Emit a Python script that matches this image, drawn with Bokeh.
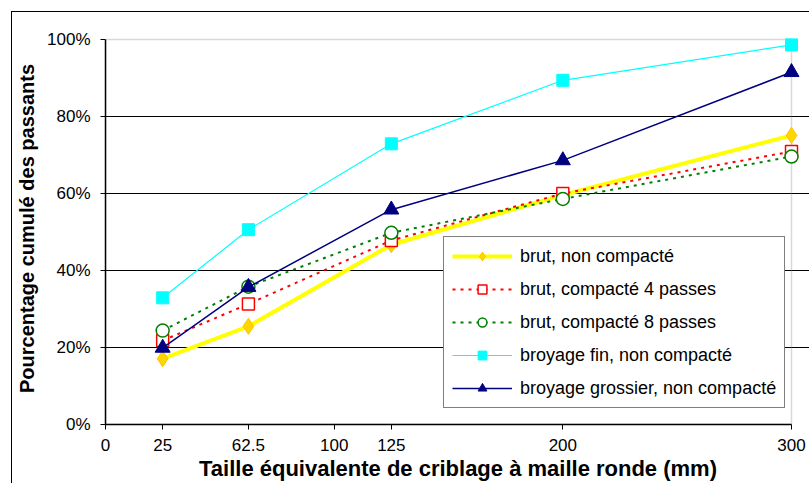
from bokeh.plotting import figure
from bokeh.models import (FixedTicker, PrintfTickFormatter, Range1d, BoxAnnotation, Legend, LegendItem)
from bokeh.embed import file_html
from bokeh.resources import INLINE

# ---- data ----
sizes = [25, 62.5, 125, 200, 300]
brut_nc = [17.1, 25.5, 46.7, 59.6, 75.1]
brut_c4 = [21.8, 31.3, 47.8, 60.0, 70.9]
brut_c8 = [24.4, 35.8, 49.8, 58.6, 69.6]
fin_nc = [32.9, 50.6, 72.9, 89.4, 98.6]
gros_nc = [19.9, 35.7, 55.8, 68.6, 91.5]
x_ticks = [0, 25, 62.5, 100, 125, 200, 300]
x_tick_labels = ["0", "25", "62.5", "100", "125", "200", "300"]
y_ticks = [0, 20, 40, 60, 80, 100]
X_MAX, Y_MAX = 300, 100

FONT = "Liberation Sans"
OFF = 12  # outer chart border offset (css margin + border)
W, H = 810 - OFF, 484 - OFF

# frame: x 0..300 spans 686 px, y 0..100 spans 385 px; let the frame run a bit past
px_x = 686 / X_MAX
px_y = 385 / Y_MAX
left_b = 105 - OFF
bottom_b = H - (424 - OFF)
x_end = (W - left_b) / px_x
top_b = 20
y_end = (H - bottom_b - top_b) / px_y

p = figure(width=W, height=H, output_backend="svg", toolbar_location=None,
           x_range=Range1d(0, x_end), y_range=Range1d(0, y_end),
           min_border_left=left_b, min_border_right=0, min_border_top=top_b,
           min_border_bottom=bottom_b)
p.styles = {"margin-left": "11px", "margin-top": "11px",
            "border-left": "1px solid black", "border-top": "1px solid black"}
p.background_fill_color = "white"
p.border_fill_color = "white"
p.outline_line_color = None

# plot-area border (gray)
p.add_layout(BoxAnnotation(left=0, right=X_MAX, bottom=0, top=Y_MAX, fill_alpha=0,
                           line_color="#808080", line_width=1.5, level="underlay"))

# grids
p.xgrid.visible = False
p.ygrid.ticker = FixedTicker(ticks=[20, 40, 60, 80])
p.ygrid.grid_line_color = "black"
p.ygrid.grid_line_width = 1

# axes
for ax in (p.xaxis[0], p.yaxis[0]):
    ax.axis_line_color = "black"
    ax.axis_line_width = 1.5
    ax.major_tick_line_color = "black"
    ax.major_tick_in = 0
    ax.major_tick_out = 5
    ax.minor_tick_line_color = None
    ax.major_label_text_font = FONT
    ax.major_label_text_font_size = "17px"
    ax.major_label_text_color = "black"
    ax.axis_label_text_font = FONT
    ax.axis_label_text_font_size = "20px"
    ax.axis_label_text_font_style = "bold"
    ax.axis_label_text_color = "black"

p.xaxis.ticker = FixedTicker(ticks=x_ticks)
p.xaxis.bounds = (0, X_MAX)
p.xaxis.major_label_overrides = {t: l for t, l in zip(x_ticks, x_tick_labels)}
p.xaxis.major_label_standoff = 9
p.xaxis.axis_label = "Taille équivalente de criblage à maille ronde (mm)"
p.xaxis.axis_label_text_font_size = "22px"
p.xaxis.axis_label_standoff = 2

p.yaxis.ticker = FixedTicker(ticks=y_ticks)
p.yaxis.bounds = (0, Y_MAX)
p.yaxis.formatter = PrintfTickFormatter(format="%d%%")
p.yaxis.major_label_standoff = 10
p.yaxis.axis_label = "Pourcentage cumulé des passants"
p.yaxis.axis_label_standoff = 6

# series
items = []
r1 = p.line(sizes, brut_nc, line_color="#FFFF00", line_width=4)
m1 = p.scatter(sizes, brut_nc, marker="diamond", size=16, fill_color="#FFD700", line_color="#FFC000", line_width=1)
items.append(LegendItem(label="brut, non compacté", renderers=[r1, m1]))

r2 = p.line(sizes, brut_c4, line_color="#FF0000", line_width=2, line_dash="3 5")
m2 = p.scatter(sizes, brut_c4, marker="square", size=12, fill_color="white", line_color="#FF0000", line_width=1.5)
items.append(LegendItem(label="brut, compacté 4 passes", renderers=[r2, m2]))

r3 = p.line(sizes, brut_c8, line_color="#008000", line_width=2, line_dash="3 5")
m3 = p.scatter(sizes, brut_c8, marker="circle", size=13, fill_color="white", line_color="#008000", line_width=1.5)
items.append(LegendItem(label="brut, compacté 8 passes", renderers=[r3, m3]))

r4 = p.line(sizes, fin_nc, line_color="#00FFFF", line_width=1.2)
m4 = p.scatter(sizes, fin_nc, marker="square", size=12, fill_color="#00FFFF", line_color="#00FFFF")
items.append(LegendItem(label="broyage fin, non compacté", renderers=[r4, m4]))

r5 = p.line(sizes, gros_nc, line_color="#000080", line_width=1.5)
m5 = p.scatter(sizes, gros_nc, marker="triangle", size=15, fill_color="#000080", line_color="#000080")
items.append(LegendItem(label="broyage grossier, non compacté", renderers=[r5, m5]))

legend = Legend(items=items, location=(338, 16))
legend.border_line_color = "black"
legend.border_line_width = 1
legend.background_fill_color = "white"
legend.background_fill_alpha = 1
legend.label_text_font = FONT
legend.label_text_font_size = "18px"
legend.label_text_color = "black"
legend.padding = 8
legend.margin = 0
legend.spacing = 11
legend.glyph_height = 22
legend.label_height = 22
legend.glyph_width = 60
legend.label_standoff = 8
p.add_layout(legend, "center")

open("out.html", "w").write(file_html(p, INLINE))
